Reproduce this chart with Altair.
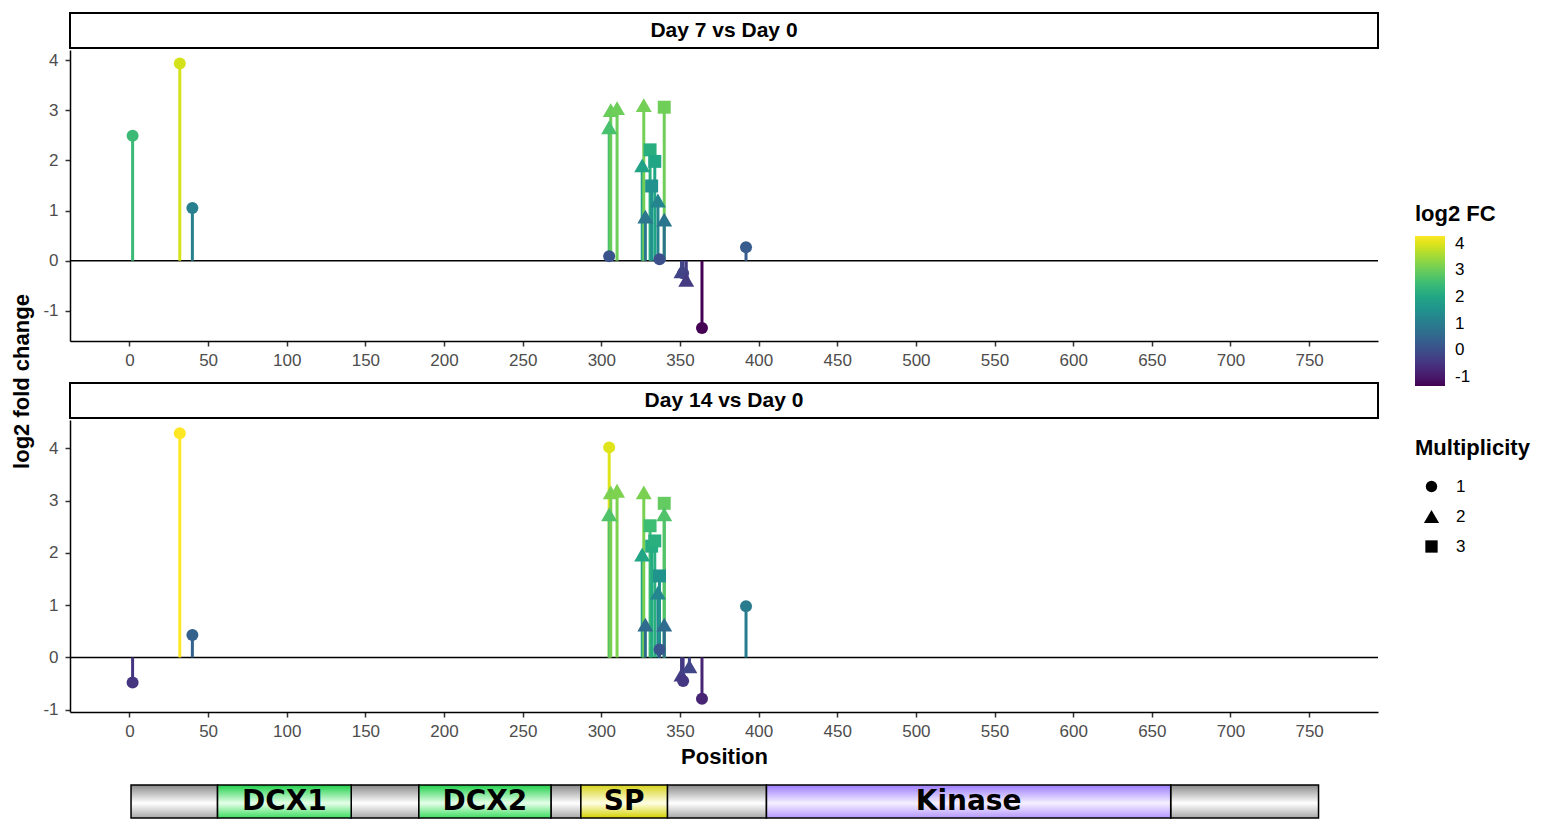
import altair as alt
import pandas as pd

# ---------------- data ----------------
d7_pos = [2, 32, 40, 305, 305, 306, 310, 326, 327, 328, 331, 332, 334, 336, 337, 340, 340, 351, 352, 354, 364, 392]
d7_val = [2.49, 3.93, 1.05, 0.09, 2.66, 3.00, 3.04, 1.90, 3.10, 0.88, 2.21, 1.49, 1.98, 1.20, 0.03, 3.06, 0.82, -0.21, -0.25, -0.38, -1.34, 0.27]
d7_mult = [1, 1, 1, 1, 2, 2, 2, 2, 2, 2, 3, 3, 3, 2, 1, 3, 2, 2, 1, 2, 1, 1]

d14_pos = [2, 32, 40, 305, 305, 306, 310, 326, 327, 328, 331, 332, 334, 336, 337, 337, 340, 340, 340, 351, 352, 356, 364, 392]
d14_val = [-0.48, 4.29, 0.43, 4.02, 2.74, 3.16, 3.19, 1.97, 3.16, 0.63, 2.52, 2.13, 2.23, 1.24, 1.56, 0.15, 2.95, 2.74, 0.63, -0.33, -0.45, -0.17, -0.79, 0.98]
d14_mult = [1, 1, 1, 1, 2, 2, 2, 2, 2, 2, 3, 3, 3, 2, 3, 1, 3, 2, 2, 2, 1, 2, 1, 1]

panel_titles = ["Day 7 vs Day 0", "Day 14 vs Day 0"]

dom_start = [1, 56, 141, 184, 268, 287, 342, 405, 662]
dom_end = [56, 141, 184, 268, 287, 342, 405, 662, 756]
dom_kind = ["grey", "green", "grey", "green", "grey", "yellow", "grey", "purple", "grey"]
dom_label = ["", "DCX1", "", "DCX2", "", "SP", "", "Kinase", ""]

x_ticks = list(range(0, 751, 50))
y_ticks = [-1, 0, 1, 2, 3, 4]
shape_levels = ["1", "2", "3"]

# ---------------- settings ----------------
X_DOMAIN = [-37.8, 793.8]
C_DOMAIN = [-1.34, 4.29]
C_DOMAIN_LINE = [-1.3400001, 4.2900001]  # same colours; separate scale so legends do not merge
W = 1308
FONT = "Liberation Sans"
PLAIN_LABEL = "'' + datum.value"
TRI = "M0,-1.15L1.33,1.15L-1.33,1.15Z"
SQR = "M-1.08,-1.08H1.08V1.08H-1.08Z"

fill_enc = alt.Fill(
    "log2FC:Q",
    scale=alt.Scale(scheme="viridis", domain=C_DOMAIN),
    legend=alt.Legend(
        type="gradient", direction="vertical",
        title="log2 FC", orient="none", legendX=1345, legendY=154,
        gradientLength=150, gradientThickness=30, values=y_ticks,
        labelExpr=PLAIN_LABEL,
        titleFontSize=22, titleFontWeight="bold", titleColor="black",
        labelFontSize=17, labelColor="black", titlePadding=10, labelOffset=10,
        gradientStrokeWidth=0,
    ),
)
stroke_enc = alt.Stroke("log2FC:Q", scale=alt.Scale(scheme="viridis", domain=C_DOMAIN_LINE),
                        legend=None)
shape_enc = alt.Shape(
    "Multiplicity:N",
    scale=alt.Scale(domain=shape_levels, range=["circle", TRI, SQR]),
    legend=alt.Legend(
        title="Multiplicity", orient="none", legendX=1345, legendY=388,
        symbolFillColor="black", symbolStrokeColor="black", symbolSize=130,
        symbolStrokeWidth=0, symbolOffset=8,
        titleFontSize=22, titleFontWeight="bold", titleColor="black",
        labelFontSize=17, labelColor="black", rowPadding=12, titlePadding=18,
        labelOffset=16,
    ),
)


def panel(pos, val, mult, title, ydom, h, first):
    df = pd.DataFrame({
        "Position": pos,
        "log2FC": val,
        "zero": [0.0] * len(pos),
        "Multiplicity": [str(m) for m in mult],
    })
    zero_df = pd.DataFrame({"log2FC": [0.0]})
    strip_df = pd.DataFrame({"t": [title]})

    xaxis = dict(values=x_ticks, tickSize=5, labelPadding=6)
    if first:
        xaxis["title"] = None
    else:
        xaxis["title"] = "Position"
        xaxis["titlePadding"] = 7
    yaxis = dict(values=y_ticks, tickSize=5, labelPadding=7, labelExpr=PLAIN_LABEL)
    if first:
        yaxis.update(title="log2 fold change", titleX=-37, titleY=331,
                     titleAngle=270, titleAlign="center", titleBaseline="bottom")
    else:
        yaxis["title"] = None

    x_enc = alt.X("Position:Q", scale=alt.Scale(domain=X_DOMAIN, nice=False, zero=False),
                  axis=alt.Axis(**xaxis))
    y_enc = alt.Y("log2FC:Q", scale=alt.Scale(domain=ydom, nice=False, zero=False),
                  axis=alt.Axis(**yaxis))

    zero_line = alt.Chart(zero_df).mark_rule(color="black", strokeWidth=1.5).encode(y=y_enc)
    stems = alt.Chart(df).mark_rule(strokeWidth=3).encode(
        x=x_enc, y=y_enc, y2="zero:Q", stroke=stroke_enc)
    points = alt.Chart(df).mark_point(filled=True, opacity=1, size=144, strokeWidth=0,
                                      color="black").encode(
        x=x_enc, y=y_enc, fill=fill_enc, shape=shape_enc)
    strip_box = alt.Chart(strip_df).mark_rect(fill="white", stroke="black", strokeWidth=2).encode(
        x=alt.value(0), x2=alt.value(W), y=alt.value(-37), y2=alt.value(-2))
    strip_txt = alt.Chart(strip_df).mark_text(fontSize=21, fontWeight="bold", color="black",
                                               baseline="middle", align="center").encode(
        text="t:N", x=alt.value(W / 2), y=alt.value(-19.5))
    return alt.layer(zero_line, stems, points, strip_box, strip_txt).properties(width=W, height=h)


p1 = panel(d7_pos, d7_val, d7_mult, panel_titles[0], [-1.60, 4.20], 291, True)
p2 = panel(d14_pos, d14_val, d14_mult, panel_titles[1], [-1.044, 4.544], 292, False)

dom_df = pd.DataFrame({
    "start": dom_start, "end": dom_end, "kind": dom_kind, "label": dom_label,
    "mid": [(a + b) / 2 for a, b in zip(dom_start, dom_end)],
})

grad_stops = {
    "grey": ["#8a8a8a", "#ffffff", "#a8a8a8"],
    "green": ["#1fd04a", "#e6ffe9", "#3ddc60"],
    "yellow": ["#d6d21c", "#ffffe6", "#d4d000"],
    "purple": ["#9c7cff", "#f5f0ff", "#b497ff"],
}

xd = alt.X("start:Q", scale=alt.Scale(domain=X_DOMAIN, nice=False, zero=False), axis=None)
dom_layers = []
for kind, cols in grad_stops.items():
    g = alt.Gradient(
        gradient="linear",
        stops=[alt.GradientStop(offset=0, color=cols[0]),
               alt.GradientStop(offset=0.55, color=cols[1]),
               alt.GradientStop(offset=1, color=cols[2])],
        x1=0, x2=0, y1=0, y2=1,
    )
    dom_layers.append(
        alt.Chart(dom_df).transform_filter(alt.datum.kind == kind)
        .mark_rect(fill=g, stroke="black", strokeWidth=1.5)
        .encode(x=xd, x2="end:Q", y=alt.value(-6), y2=alt.value(27))
    )
dom_text = alt.Chart(dom_df).mark_text(fontSize=28, fontWeight="bold", color="black",
                                        font="DejaVu Sans",
                                        baseline="middle", align="center").encode(
    x=alt.X("mid:Q", scale=alt.Scale(domain=X_DOMAIN, nice=False, zero=False), axis=None),
    y=alt.value(11), text="label:N")
dom = alt.layer(*dom_layers, dom_text).properties(width=W, height=22)

chart = alt.vconcat(p1, p2, dom, spacing=79, bounds="flush").properties(
    padding={"left": 2, "top": 4, "right": 5, "bottom": 0}
).configure(font=FONT).configure_view(stroke=None).configure_axis(
    grid=False, domainColor="black", domainWidth=1.5, tickColor="#333333", tickWidth=1.5,
    labelColor="#4d4d4d", labelFontSize=17, labelFont=FONT,
    titleFontSize=22, titleFontWeight="bold", titleColor="black", titleFont=FONT,
).configure_legend(labelFont=FONT, titleFont=FONT)

chart.save("out.html", embed_options={"renderer": "svg", "actions": False})
